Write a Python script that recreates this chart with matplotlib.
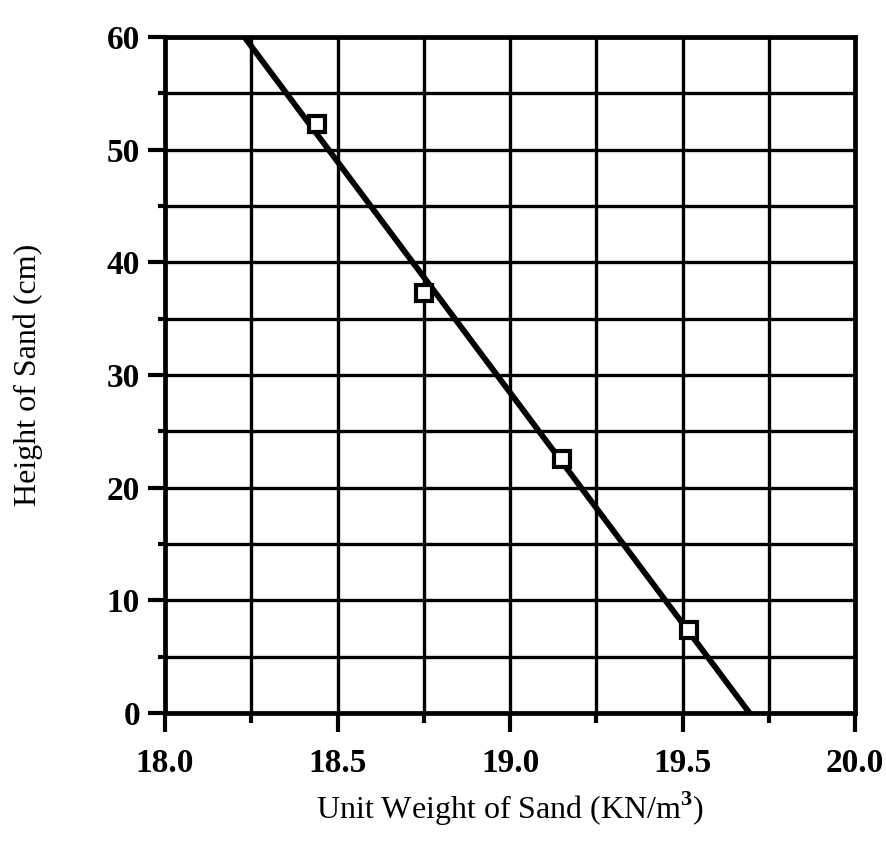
import matplotlib
matplotlib.use('Agg')
import matplotlib.pyplot as plt
from matplotlib.ticker import MultipleLocator, FormatStrFormatter
import numpy as np

# measured points
unit_weight = np.array([18.44, 18.75, 19.15, 19.52])
height = np.array([52.3, 37.3, 22.5, 7.4])

plt.rcParams['font.family'] = ['Liberation Serif', 'DejaVu Serif']
plt.rcParams['font.weight'] = 'bold'
plt.rcParams['mathtext.fontset'] = 'custom'
plt.rcParams['mathtext.rm'] = 'Liberation Serif'

fig = plt.figure(figsize=(8.87, 8.56), dpi=100)
ax = fig.add_axes([0.186, 0.167, 0.778, 0.790])

# linear fit, drawn between y = 60 and y = 0
slope, icpt = np.polyfit(unit_weight, height, 1)
y_ends = np.array([60.0, 0.0])
x_ends = (y_ends - icpt) / slope
ax.plot(x_ends, y_ends, color='black', lw=4.2, solid_capstyle='butt', zorder=3)
ax.plot(unit_weight, height, 's', ms=12, mfc='white', mec='black', mew=3, zorder=4)

ax.set_xlim(18.0, 20.0)
ax.set_ylim(0, 60)
ax.xaxis.set_major_locator(MultipleLocator(0.5))
ax.xaxis.set_minor_locator(MultipleLocator(0.25))
ax.yaxis.set_major_locator(MultipleLocator(10))
ax.yaxis.set_minor_locator(MultipleLocator(5))
ax.xaxis.set_major_formatter(FormatStrFormatter('%.1f'))

ax.grid(True, which='both', color='black', lw=2.4, zorder=1)
ax.set_axisbelow(True)
for s in ax.spines.values():
    s.set_linewidth(3.4)

ax.tick_params(axis='x', which='major', length=14, width=3, pad=11, labelsize=24)
ax.tick_params(axis='x', which='minor', length=7, width=3)
ax.tick_params(axis='y', which='major', length=12, width=3, pad=6, labelsize=24)
ax.tick_params(axis='y', which='minor', length=5, width=3)

ax.set_xlabel(r'Unit Weight of Sand (KN/m$^3$)', fontsize=23, fontweight='normal', labelpad=8)
ax.set_ylabel('Height of Sand (cm)', fontsize=23, fontweight='normal', labelpad=46)

fig.savefig('out.png', dpi=100)
